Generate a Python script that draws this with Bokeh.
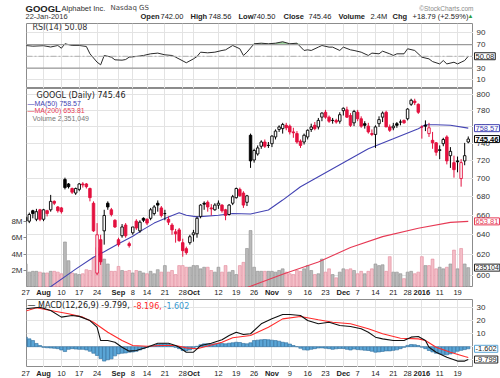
from bokeh.plotting import figure
from bokeh.layouts import column, row
from bokeh.models import (ColumnDataSource, Range1d, LinearAxis, LinearScale,
                          FixedTicker, Label, LabelSet, Span)
from bokeh.core.properties import value, field
from bokeh.embed import file_html
from bokeh.resources import INLINE

# ---------------- data ----------------
opens = [658, 654, 665, 656, 666, 656, 665, 666, 675, 669,
         668, 699, 694, 689, 684, 688, 694, 694, 689, 673,
         602, 635, 644, 673, 666, 655, 635, 639, 650, 631,
         642, 654, 644, 657, 656, 657, 662, 673, 668, 662,
         656, 650, 643, 645, 632, 626, 632, 640, 641, 659,
         673, 674, 668, 666, 671, 671, 666, 661, 673, 679,
         688, 684, 674, 750, 721, 728, 737, 742, 738, 740,
         748, 757, 758, 762, 761, 754, 752, 743, 742, 748,
         757, 762, 760, 772, 778, 772, 768, 768, 767, 780,
         781, 774, 765, 778, 770, 764, 761, 752, 751, 764,
         772, 778, 760, 759, 764, 766, 768, 770, 788, 792,
         788, 760, 762, 752, 744, 741, 732, 740, 748, 726,
         718, 720, 700, 720, 742.00]
highs = [661, 663, 666, 667, 667, 667, 666, 682, 676, 670,
         669, 701, 695, 690, 690, 695, 696, 695, 690, 675,
         652, 640, 666, 675, 668, 656, 637, 651, 652, 633,
         648, 656, 655, 658, 657, 668, 671, 676, 670, 666,
         659, 652, 646, 647, 636, 628, 640, 645, 659, 672,
         675, 676, 672, 673, 676, 672, 667, 672, 682, 690,
         690, 686, 682, 752, 734, 738, 744, 745, 742, 750,
         757, 762, 765, 765, 763, 759, 755, 745, 752, 757,
         764, 766, 771, 778, 781, 774, 771, 770, 778, 784,
         785, 777, 781, 781, 773, 767, 765, 757, 762, 773,
         779, 780, 763, 765, 766, 769, 769, 783, 795, 795,
         789, 762, 768, 765, 754, 742, 738, 747, 750, 736,
         726, 725, 722, 741, 748.56]
lows = [651, 652, 657, 654, 654, 654, 659, 664, 671, 663,
        662, 688, 689, 683, 682, 686, 690, 689, 675, 643,
        600, 610, 630, 666, 659, 647, 628, 637, 637, 627,
        640, 645, 642, 653, 650, 655, 660, 664, 658, 655,
        650, 640, 632, 633, 618, 620, 630, 633, 637, 657,
        666, 664, 660, 665, 667, 663, 655, 660, 671, 678,
        680, 668, 670, 712, 718, 726, 734, 735, 735, 736,
        745, 754, 752, 756, 751, 747, 740, 735, 739, 745,
        754, 756, 757, 767, 770, 765, 764, 764, 764, 774,
        771, 760, 761, 767, 759, 758, 752, 749, 735, 760,
        766, 760, 754, 756, 759, 762, 764, 768, 786, 787,
        776, 746, 755, 748, 734, 726, 722, 737, 716, 712,
        701, 707, 691, 715, 740.50]
closes = [654, 661, 662, 664, 656, 666, 662, 675, 673, 665,
          664, 690, 691, 685, 689, 694, 693, 691, 679, 644,
          640, 613, 660, 669, 661, 648, 630, 648, 639, 629,
          648, 647, 653, 655, 652, 666, 669, 671, 660, 662,
          653, 645, 641, 634, 624, 622, 638, 642, 657, 671,
          672, 669, 667, 671, 673, 665, 660, 671, 680, 689,
          681, 671, 681, 720, 732, 735, 742, 737, 738, 749,
          755, 760, 763, 759, 754, 753, 742, 738, 750, 756,
          760, 758, 768, 777, 772, 767, 768, 766, 775, 783,
          772, 762, 779, 770, 761, 762, 754, 751, 760, 769,
          777, 760, 756, 761, 762, 766, 765, 782, 793, 790,
          778, 760, 761, 759, 741, 730, 733, 745, 720, 731,
          710, 719, 718, 726, 745.46]
volumes_m = [2.8, 1.8, 1.9, 1.9, 1.8, 1.7, 1.7, 1.9, 1.9, 1.8,
             1.6, 5.5, 3.2, 1.7, 1.6, 1.5, 1.6, 2.1, 2.0, 3.6,
             4.8, 4.3, 3.4, 2.8, 1.9, 1.9, 2.5, 2.0, 1.9, 2.0,
             1.7, 2.0, 1.9, 1.7, 1.6, 1.9, 1.6, 2.1, 1.8, 2.6,
             1.8, 2.0, 1.5, 2.6, 2.6, 2.4, 2.4, 2.6, 2.6, 2.2,
             2.4, 2.4, 2.0, 1.8, 2.4, 1.8, 2.6, 1.8, 2.0, 1.5,
             2.6, 3.0, 4.7, 6.9, 2.4, 1.9, 1.9, 1.9, 1.9, 1.9,
             1.8, 2.0, 2.2, 1.8, 1.6, 1.5, 2.0, 1.9, 2.2, 2.6,
             2.0, 1.5, 1.6, 3.4, 1.8, 2.2, 1.5, 1.1, 1.8, 2.2,
             2.1, 2.2, 2.0, 1.6, 1.9, 1.6, 1.9, 2.2, 2.8, 2.6,
             2.7, 1.9, 3.7, 1.8, 1.8, 1.6, 1.0, 1.8, 1.9, 1.6,
             1.8, 3.7, 2.6, 2.6, 3.4, 2.2, 2.4, 2.2, 2.4, 2.8,
             4.5, 2.2, 4.7, 2.8, 2.351049]

ma50_idx = [4, 7, 14, 19, 22, 26, 30, 33, 36, 40, 43, 45, 48, 54, 58, 63, 68, 72,
            77, 86, 96, 103, 110, 112, 115, 119, 124]
ma50_val = [584, 589.2, 605.9, 617.4, 623.0, 631.0, 638.5, 645.5, 652.0, 658.5, 662.8,
            660.3, 658.5, 660.3, 662.1, 661.5, 665.7, 676.4, 690.9, 711.1, 734.1, 745.8,
            757.9, 762.7, 762.7, 762.1, 758.57]
ma200_idx = [60, 63, 72, 82, 91, 100, 110, 119, 124]
ma200_val = [586, 589.5, 600.9, 612.9, 627.1, 638.1, 646.6, 652.8, 653.81]

rsi_idx = [0, 2, 5, 7, 9, 10, 11, 13, 15, 17, 18, 20, 21, 22, 24, 25, 27, 28, 29, 31,
           33, 35, 37, 39, 41, 42, 45, 47, 48, 49, 51, 53, 55, 56, 58, 60, 61, 62, 64,
           66, 68, 70, 72, 74, 76, 78, 79, 80, 82, 83, 85, 86, 88, 89, 91, 92, 94, 96,
           97, 99, 100, 102, 103, 104, 106, 107, 109, 111, 113, 114, 116, 117, 118, 120,
           121, 122, 123, 124]
rsi_val = [68.4, 67.2, 68.0, 65.8, 68.4, 63.7, 71.3, 68.4, 68.4, 66.7, 54.3, 40.0, 35.5,
           51.4, 48.6, 44.0, 43.4, 44.5, 48.6, 49.7, 51.4, 54.2, 55.4, 52.5, 51.4, 48.6,
           39.0, 45.6, 49.7, 57.0, 55.9, 57.0, 59.9, 61.0, 68.4, 62.8, 51.4, 57.0, 71.3,
           72.3, 71.3, 72.3, 74.7, 71.3, 72.3, 59.9, 61.0, 59.9, 65.6, 68.4, 65.6, 65.6,
           59.9, 65.6, 61.0, 59.9, 57.0, 51.4, 55.4, 54.2, 58.7, 54.2, 51.4, 54.2, 54.2,
           62.8, 59.9, 48.5, 45.6, 41.0, 37.0, 42.8, 37.0, 39.9, 37.0, 39.9, 42.8, 50.08]

macd_idx = [0, 4, 7, 10, 13, 15, 18, 20, 21, 23, 25, 27, 29, 31, 34, 37, 40, 42, 43, 45,
            47, 49, 52, 55, 57, 59, 61, 63, 66, 69, 72, 74, 77, 79, 82, 85, 88, 91, 94,
            96, 98, 100, 103, 106, 108, 110, 112, 113, 115, 118, 121, 123, 124]
macd_val = [29.0, 30.2, 27.7, 22.6, 23.9, 23.2, 20.0, 14.9, 4.7, 4.7, 3.4, -0.4, -3.4,
            -2.9, -0.4, 2.7, 2.7, 0.9, -0.4, -4.2, -4.2, 0.9, 2.7, 5.3, 8.6, 11.1, 9.3,
            9.9, 17.5, 21.3, 24.6, 24.6, 23.9, 20.0, 17.5, 18.7, 16.2, 15.5, 13.7, 11.0,
            7.3, 6.0, 4.7, 4.7, 7.3, 7.8, 4.7, -0.4, -4.2, -8.0, -11.0, -11.0, -9.799]
signal_idx = [0, 3, 7, 12, 16, 19, 23, 27, 30, 34, 38, 42, 45, 48, 51, 55, 58, 63, 68,
              72, 77, 82, 86, 91, 96, 100, 105, 110, 112, 115, 119, 123, 124]
signal_val = [27.2, 29.8, 27.7, 25.2, 22.6, 18.7, 11.1, 4.7, 0.9, 0.4, 0.9, 0.9, -0.9,
              -1.6, 0.5, 3.4, 6.8, 8.6, 14.9, 21.3, 23.1, 20.6, 18.7, 17.5, 13.7, 9.9,
              6.5, 6.0, 4.7, -0.4, -4.2, -7.5, -8.196]
hist_val = [7.3, 6.0, 4.7, 2.5, 0.9, -0.5, -0.8, -1.0, -1.2, -1.5,
            -2.5, -3.7, -2.0, -1.5, -1.8, -2.0, -2.0, -2.5, -3.5, -5.0,
            -6.7, -9.0, -11.0, -10.0, -9.3, -7.0, -5.5, -5.0, -4.8, -4.2,
            -4.0, -3.5, -2.5, -1.5, -0.5, 0.2, 1.0, 1.8, 2.2, 2.2,
            1.8, 0.5, -0.5, -1.5, -2.9, -3.0, -2.5, -1.5, 0.3, 1.5,
            2.2, 2.2, 2.0, 2.2, 2.5, 2.5, 2.2, 2.7, 3.0, 3.4,
            3.2, 2.5, 2.2, 3.0, 4.7, 5.0, 5.3, 5.5, 5.3, 5.0,
            4.7, 4.2, 3.4, 3.0, 2.0, 0.9, 0.0, -1.2, -2.4, -2.6,
            -2.0, -1.5, -1.0, -0.9, -1.2, -1.5, -2.0, -1.6, -1.4, -1.4,
            -2.0, -2.5, -1.8, -2.2, -2.4, -2.7, -2.9, -3.5, -4.2, -4.0,
            -3.6, -3.2, -3.2, -2.8, -2.4, -1.5, -0.5, 1.0, 1.7, 1.5,
            0.9, -0.4, -1.5, -2.9, -4.0, -5.0, -5.4, -6.0, -6.2, -5.5,
            -4.5, -3.5, -2.8, -2.2, -1.602]

tick_idx = [0, 5, 10, 15, 20, 26, 30, 34, 39, 44, 47, 54, 59, 64, 69, 74, 79, 84, 89,
            93, 98, 103, 107, 111, 116, 121]
tick_labels = ["27", "Aug", "10", "17", "24", "Sep", "8", "14", "21", "28", "Oct", "12",
               "19", "26", "Nov", "9", "16", "23", "Dec", "7", "14", "21", "28", "2016",
               "11", "19"]
tick_bold = [False, True, False, False, False, True, False, False, False, False, True,
             False, False, False, True, False, False, False, True, False, False, False,
             False, True, False, False]

price_ticks = [600, 620, 640, 660, 680, 700, 720, 740, 760, 780, 800]
vol_ticks = [2, 4, 6, 8]
rsi_ticks = [10, 30, 50, 70, 90]
rsi_tick_labels = ["10", "30", "", "70", "90"]
macd_ticks = [-10, 0, 10, 20, 30]
macd_tick_labels = ["", "", "10", "20", "30"]

# ---------------- styling / layout ----------------
SANS = "Liberation Sans"
WIDE = "DejaVu Sans"
ML = 26            # left border of the panels
FW = 447           # frame width of the panels
TW = 27            # width of the right-hand label strip
TOTAL_W = ML + FW + TW
RED = "#e3103e"
BLUE = "#4343b3"
MA200C = "#e63a55"
GRID = "#e3e3e3"

N = len(closes)
idx = list(range(N))
prev = [closes[0]] + closes[:-1]
up = [c >= p for c, p in zip(closes, prev)]
ccol = ["#000000" if u else RED for u in up]
cfill = [col if c < o else "#ffffff" for col, c, o in zip(ccol, closes, opens)]
btop = [max(o, c) for o, c in zip(opens, closes)]
bbot = [min(o, c) for o, c in zip(opens, closes)]
vfill = ["#bababa" if u else "#f4bfc8" for u in up]
vline = ["#8e8e8e" if u else "#e38a9c" for u in up]

X0, X1 = 0.224, 125.47
xr = Range1d(X0, X1)
per_px = (X1 - X0) / FW
xr_full = Range1d(X0 - ML * per_px, X1 + TW * per_px)


def panel(height, y_range, **kw):
    p = figure(width=ML + FW, height=height, x_range=xr, y_range=y_range,
               output_backend="svg", toolbar_location=None, min_border_left=ML,
               min_border_right=0, min_border_top=0, min_border_bottom=0,
               x_axis_location=None, y_axis_location=None, **kw)
    p.outline_line_color = "#8c8c8c"
    p.xgrid.ticker = FixedTicker(ticks=tick_idx)
    p.xgrid.grid_line_color = GRID
    p.ygrid.grid_line_color = GRID
    p.background_fill_color = "white"
    p.border_fill_color = "white"
    return p


def strip(height, y_range, **kw):
    p = figure(width=TW, height=height, x_range=Range1d(0, TW), y_range=y_range,
               output_backend="svg", toolbar_location=None, min_border_left=0,
               min_border_right=0, min_border_top=0, min_border_bottom=0,
               x_axis_location=None, y_axis_location=None, **kw)
    p.outline_line_color = None
    p.grid.visible = False
    p.background_fill_color = "white"
    p.border_fill_color = "white"
    return p


def bare(width, height, x_range, y_range):
    p = figure(width=width, height=height, x_range=x_range, y_range=y_range,
               output_backend="svg", toolbar_location=None, min_border=0,
               x_axis_location=None, y_axis_location=None)
    p.outline_line_color = None
    p.grid.visible = False
    p.background_fill_color = "white"
    p.border_fill_color = "white"
    return p


def txt(p, x, y, text, size="7.5px", color="#222222", bold=False, align="left", font=SANS):
    p.add_layout(Label(x=x, y=y, x_units="screen", y_units="screen", text=text,
                       text_font=font, text_font_size=size, text_color=color,
                       text_font_style="bold" if bold else "normal", text_align=align,
                       text_baseline="middle"))


def ticklabels(p, ticks, labels, y_range_name="default"):
    src = ColumnDataSource(dict(y=ticks, t=labels))
    p.add_layout(LabelSet(x=3, x_units="screen", y="y", text="t", source=src,
                          y_range_name=y_range_name, text_font=value(SANS),
                          text_font_size=value("8px"), text_color="#333333",
                          text_align="left", text_baseline="middle"))


def tag(p, y, text, color, border, y_range_name="default", bold=False, size="7.5px"):
    p.add_layout(Label(x=1, x_units="screen", y=y, y_units="data",
                       y_range_name=y_range_name, text=text, text_font=SANS,
                       text_font_size=size, text_color=color,
                       text_font_style="bold" if bold else "normal",
                       text_align="left", text_baseline="middle", border_line_color=border,
                       border_line_width=1, background_fill_color="white", padding=1))


def xlabel_row(height, ypos):
    p = bare(TOTAL_W, height, xr_full, Range1d(0, 1))
    src = ColumnDataSource(dict(x=tick_idx, y=[ypos] * len(tick_idx), t=tick_labels,
                                s=["bold" if b else "normal" for b in tick_bold]))
    p.text(x="x", y="y", text="t", source=src, text_font=value(SANS),
           text_font_size="7.5px", text_font_style=field("s"), text_color="#222222",
           text_align="center", text_baseline="middle")
    return p


# ---------------- header ----------------
hd = bare(TOTAL_W, 23, Range1d(0, TOTAL_W), Range1d(0, 23))
txt(hd, 25, 15, "GOOGL", size="9.5px", color="#222222", bold=True)
txt(hd, 61, 15.5, "Alphabet Inc.", size="7.5px", color="#333333")
txt(hd, 110, 15.5, "Nasdaq GS", size="7px", color="#444444", font=WIDE)
txt(hd, 473, 15.5, "\u00a9StockCharts.com", size="6.5px", color="#8a8a8a", align="right")
txt(hd, 25, 7, "22-Jan-2016", size="7.5px", color="#333333")
row2 = [(140, "Open", True), (160, "742.00", False), (190, "High", True),
        (208, "748.56", False), (238, "Low", True), (252, "740.50", False),
        (283, "Close", True), (308, "745.46", False), (338, "Volume", True),
        (370, "2.4M", False), (392, "Chg", True), (412, "+18.79 (+2.59%)", False)]
for x, t, b in row2:
    txt(hd, x, 7, t, size="7.5px", color="#222222", bold=b)
txt(hd, 467, 7.5, "\u25b2", size="6px", color="#2e9e3e")

# ---------------- RSI panel ----------------
rsi_range = Range1d(-4.8, 105.8)
p1 = panel(65, rsi_range)
p1.ygrid.ticker = FixedTicker(ticks=rsi_ticks)
p1.varea(x=rsi_idx, y1=[70] * len(rsi_idx), y2=[max(v, 70) for v in rsi_val],
         fill_color="#7cc47c", fill_alpha=0.7)
for lvl in (70, 30):
    p1.add_layout(Span(location=lvl, dimension="width", line_color="#9b9b9b", line_width=1.3))
p1.add_layout(Span(location=50, dimension="width", line_color="#b0b0b0", line_width=1,
                   line_dash="6 2 2 2"))
p1.line(rsi_idx, rsi_val, line_color="#2a2a2a", line_width=1)
txt(p1, 6, 61.5, "RSI(14) 50.08", size="8px", color="#333333", font=WIDE)
p1t = strip(65, rsi_range)
ticklabels(p1t, rsi_ticks, rsi_tick_labels)
tag(p1t, 50.08, "50.08", "#222222", "#222222")

# ---------------- price / volume panel ----------------
price_range = Range1d(588.4, 808.06)
vol_range = Range1d(-0.086, 24.33)
p2 = panel(199, price_range, y_axis_type="log")
p2.ygrid.ticker = FixedTicker(ticks=price_ticks)
p2.extra_y_ranges = {"vol": vol_range}
p2.extra_y_scales = {"vol": LinearScale()}
vax = LinearAxis(y_range_name="vol", ticker=FixedTicker(ticks=vol_ticks),
                 major_label_overrides={t: f"{t}M" for t in vol_ticks})
vax.axis_line_color = None
vax.major_tick_out = 3
vax.major_tick_in = 0
vax.major_tick_line_color = "#888888"
vax.minor_tick_line_color = None
vax.major_label_text_font = SANS
vax.major_label_text_font_size = "8px"
vax.major_label_text_color = "#333333"
vax.major_label_standoff = 1
p2.add_layout(vax, "left")

p2.vbar(x=idx, width=0.8, top=volumes_m, bottom=0, y_range_name="vol",
        fill_color=vfill, line_color=vline, line_width=0.6)
p2.line(ma200_idx, ma200_val, line_color=MA200C, line_width=1.1)
p2.line(ma50_idx, ma50_val, line_color=BLUE, line_width=1.1)
p2.segment(x0=idx, y0=lows, x1=idx, y1=highs, line_color=ccol, line_width=1)
p2.vbar(x=idx, width=0.7, top=btop, bottom=bbot, fill_color=cfill, line_color=ccol,
        line_width=0.9)

txt(p2, 10, 192, "GOOGL (Daily) 745.46", size="8px", color="#222222", font=WIDE)
txt(p2, 1, 184.3, "\u2014MA(50) 758.57", size="7px", color=BLUE)
txt(p2, 1, 176.6, "\u2014MA(200) 653.81", size="7px", color=MA200C)
txt(p2, 6, 168.9, "Volume 2,351,049", size="7px", color="#777777")

p2t = strip(199, price_range, y_axis_type="log")
p2t.extra_y_ranges = {"vol": vol_range}
p2t.extra_y_scales = {"vol": LinearScale()}
ticklabels(p2t, price_ticks, [str(t) for t in price_ticks])
tag(p2t, 758.57, "758.57", BLUE, BLUE)
tag(p2t, 745.46, "745.46", "#000000", "#000000", bold=True)
tag(p2t, 653.81, "653.81", MA200C, MA200C)
tag(p2t, 2.351049, "235104", "#222222", "#222222", y_range_name="vol", size="7px")

xl1 = xlabel_row(12, 0.58)

# ---------------- MACD panel ----------------
macd_range = Range1d(-15.9, 36.1)
p3 = panel(68, macd_range)
p3.ygrid.ticker = FixedTicker(ticks=macd_ticks)
p3.vbar(x=idx, width=0.95, top=hist_val, bottom=0, fill_color="#5aa5d6",
        line_color="#2d6c9c", line_width=0.6)
p3.line(signal_idx, signal_val, line_color="#ff2a2a", line_width=1.1)
p3.line(macd_idx, macd_val, line_color="#111111", line_width=1.1)
txt(p3, 1, 62, "\u2014 MACD(12,26,9) -9.799,", size="8px", color="#222222", font=WIDE)
txt(p3, 107, 62, "-8.196,", size="8px", color="#ff2a2a", font=WIDE)
txt(p3, 137, 62, "-1.602", size="8px", color="#3a9ad0", font=WIDE)
p3t = strip(68, macd_range)
ticklabels(p3t, macd_ticks, macd_tick_labels)
tag(p3t, -1.602, "-1.602", "#222222", "#5aa5d6")
tag(p3t, -9.799, "-9.799", "#222222", "#222222")

xl2 = xlabel_row(11, 0.56)

layout = column(hd, row(p1, p1t), row(p2, p2t), xl1, row(p3, p3t), xl2)
open("out.html", "w").write(file_html(layout, INLINE))
